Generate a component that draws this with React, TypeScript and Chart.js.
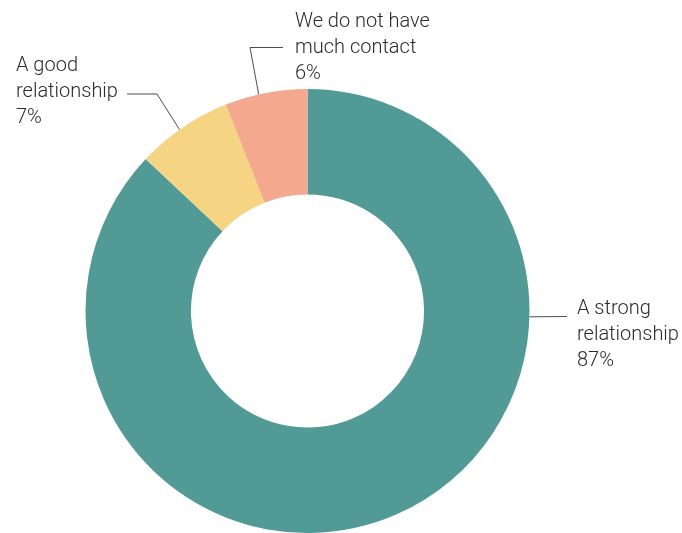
import React, { useEffect, useRef } from "react";
import { Chart, registerables } from "chart.js";

Chart.register(...registerables);

const categories = ["A strong relationship", "A good relationship", "We do not have much contact"];
const values = [87, 7, 6];
const colors = ["#529a96", "#f5d584", "#f4a88d"];
const labelLines = [
  ["A strong", "relationship", "87%"],
  ["A good", "relationship", "7%"],
  ["We do not have", "much contact", "6%"],
];

// annotation geometry (angle in degrees clockwise from top, elbow, line end, text origin)
const annot = [
  { angle: 91.5, elbow: [567, 316.5], end: [567, 316.5], text: [577, 314], align: "left" },
  { angle: 324.8, elbow: [157, 94], end: [127, 94], text: [16, 71], align: "left" },
  { angle: 347.3, elbow: [250, 47.5], end: [283, 47.5], text: [295, 27], align: "left" },
];

const FONT = "300 20px Roboto, 'Liberation Sans', sans-serif";

const labelPlugin = {
  id: "leaderLabels",
  afterDraw(chart: any) {
    const ctx = chart.ctx;
    const meta = chart.getDatasetMeta(0);
    ctx.save();
    meta.data.forEach((arc: any, i: number) => {
      const a = annot[i];
      const rad = (a.angle * Math.PI) / 180;
      const px = arc.x + arc.outerRadius * Math.sin(rad);
      const py = arc.y - arc.outerRadius * Math.cos(rad);
      ctx.strokeStyle = "#4b4b5b";
      ctx.lineWidth = 1;
      ctx.beginPath();
      ctx.moveTo(px, py);
      ctx.lineTo(a.elbow[0], a.elbow[1]);
      ctx.lineTo(a.end[0], a.end[1]);
      ctx.stroke();
      ctx.fillStyle = "#2b2b2b";
      ctx.font = FONT;
      ctx.textAlign = a.align;
      ctx.textBaseline = "alphabetic";
      labelLines[i].forEach((t, j) => {
        ctx.fillText(t, a.text[0], a.text[1] + j * 26);
      });
    });
    ctx.restore();
  },
};

export default function App() {
  const ref = useRef<HTMLCanvasElement>(null);
  useEffect(() => {
    document.body.style.margin = "0";
    const chart = new Chart(ref.current!, {
      type: "doughnut",
      data: {
        labels: categories,
        datasets: [
          {
            data: values,
            backgroundColor: colors,
            borderWidth: 0,
          },
        ],
      },
      options: {
        animation: false,
        responsive: false,
        cutout: "52.5%",
        layout: { padding: { left: 85, right: 152, top: 89, bottom: 0 } },
        plugins: { legend: { display: false }, tooltip: { enabled: false } },
      },
      plugins: [labelPlugin],
    });
    return () => chart.destroy();
  }, []);
  return (
    <div style={{ width: 682, height: 533 }}>
      <canvas ref={ref} width={682} height={533} style={{ display: "block" }} />
    </div>
  );
}
